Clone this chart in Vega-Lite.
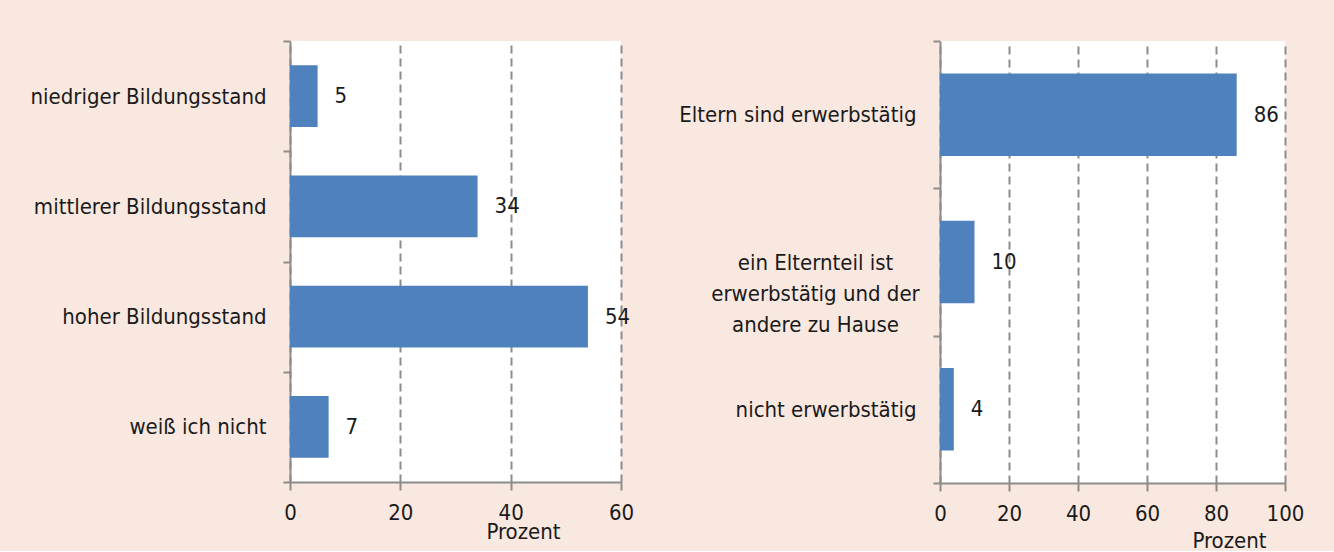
{
  "$schema": "https://vega.github.io/schema/vega-lite/v6.json",
  "background": "#F9E8E0",
  "autosize": {"type": "pad"},
  "padding": {"left": 29, "top": 30, "right": 35, "bottom": 0},
  "spacing": 319,
  "bounds": "flush",
  "config": {
    "font": "DejaVu Sans Condensed",
    "view": {"fill": "white", "stroke": null},
    "axis": {
      "domainColor": "#8C8C8C",
      "domainWidth": 2,
      "tickColor": "#8C8C8C",
      "tickWidth": 2,
      "labelFont": "DejaVu Sans Condensed",
      "labelFontSize": 22,
      "labelColor": "#1A1A1A",
      "titleFont": "DejaVu Sans Condensed",
      "titleFontSize": 22,
      "titleFontWeight": "normal",
      "titleColor": "#1A1A1A",
      "gridColor": "#8C8C8C",
      "gridWidth": 2,
      "gridDash": [8, 5]
    }
  },
  "hconcat": [
    {
      "width": 331,
      "height": 441,
      "data": {
        "values": [
          {"Kategorie": "niedriger Bildungsstand", "Prozent": 5},
          {"Kategorie": "mittlerer Bildungsstand", "Prozent": 34},
          {"Kategorie": "hoher Bildungsstand", "Prozent": 54},
          {"Kategorie": "weiß ich nicht", "Prozent": 7}
        ]
      },
      "encoding": {
        "y": {
          "field": "Kategorie",
          "type": "nominal",
          "sort": null,
          "scale": {"paddingInner": 0, "paddingOuter": 0},
          "axis": {
            "title": null,
            "tickBand": "extent",
            "tickSize": 7,
            "labelPadding": 17,
            "labelLimit": 400,
            "grid": false
          }
        },
        "x": {
          "field": "Prozent",
          "type": "quantitative",
          "scale": {"domain": [0, 60], "nice": false},
          "axis": {
            "values": [0, 20, 40, 60],
            "grid": true,
            "tickSize": 8,
            "labelPadding": 12,
            "labelFlush": false,
            "title": "Prozent",
            "titleX": 233,
            "titleY": 49,
            "titleAlign": "center",
            "titleBaseline": "middle"
          }
        }
      },
      "layer": [
        {"mark": {"type": "bar", "color": "#4F81BD", "height": {"band": 0.56}}},
        {
          "mark": {"type": "text", "align": "left", "baseline": "middle", "dx": 17, "fontSize": 22, "color": "#1A1A1A"},
          "encoding": {"text": {"field": "Prozent", "type": "quantitative"}}
        }
      ]
    },
    {
      "width": 345,
      "height": 442,
      "data": {
        "values": [
          {"Kategorie": "Eltern sind erwerbstätig", "Prozent": 86},
          {"Kategorie": "ein Elternteil ist|erwerbstätig und der|andere zu Hause", "Prozent": 10},
          {"Kategorie": "nicht erwerbstätig", "Prozent": 4}
        ]
      },
      "encoding": {
        "y": {
          "field": "Kategorie",
          "type": "nominal",
          "sort": null,
          "scale": {"paddingInner": 0, "paddingOuter": 0},
          "axis": {
            "title": null,
            "tickBand": "extent",
            "tickSize": 7,
            "labelPadding": {"condition": {"test": "indexof(datum.label, '|') >= 0", "value": 118}, "value": 17},
            "labelAlign": {"condition": {"test": "indexof(datum.label, '|') >= 0", "value": "center"}, "value": "right"},
            "labelExpr": "split(datum.label, '|')",
            "labelLineHeight": 31,
            "labelLimit": 400,
            "grid": false
          }
        },
        "x": {
          "field": "Prozent",
          "type": "quantitative",
          "scale": {"domain": [0, 100], "nice": false},
          "axis": {
            "values": [0, 20, 40, 60, 80, 100],
            "grid": true,
            "tickSize": 8,
            "labelPadding": 12,
            "labelFlush": false,
            "title": "Prozent",
            "titleX": 289,
            "titleY": 57,
            "titleAlign": "center",
            "titleBaseline": "middle"
          }
        }
      },
      "layer": [
        {"mark": {"type": "bar", "color": "#4F81BD", "height": {"band": 0.56}}},
        {
          "mark": {"type": "text", "align": "left", "baseline": "middle", "dx": 17, "fontSize": 22, "color": "#1A1A1A"},
          "encoding": {"text": {"field": "Prozent", "type": "quantitative"}}
        }
      ]
    }
  ]
}
